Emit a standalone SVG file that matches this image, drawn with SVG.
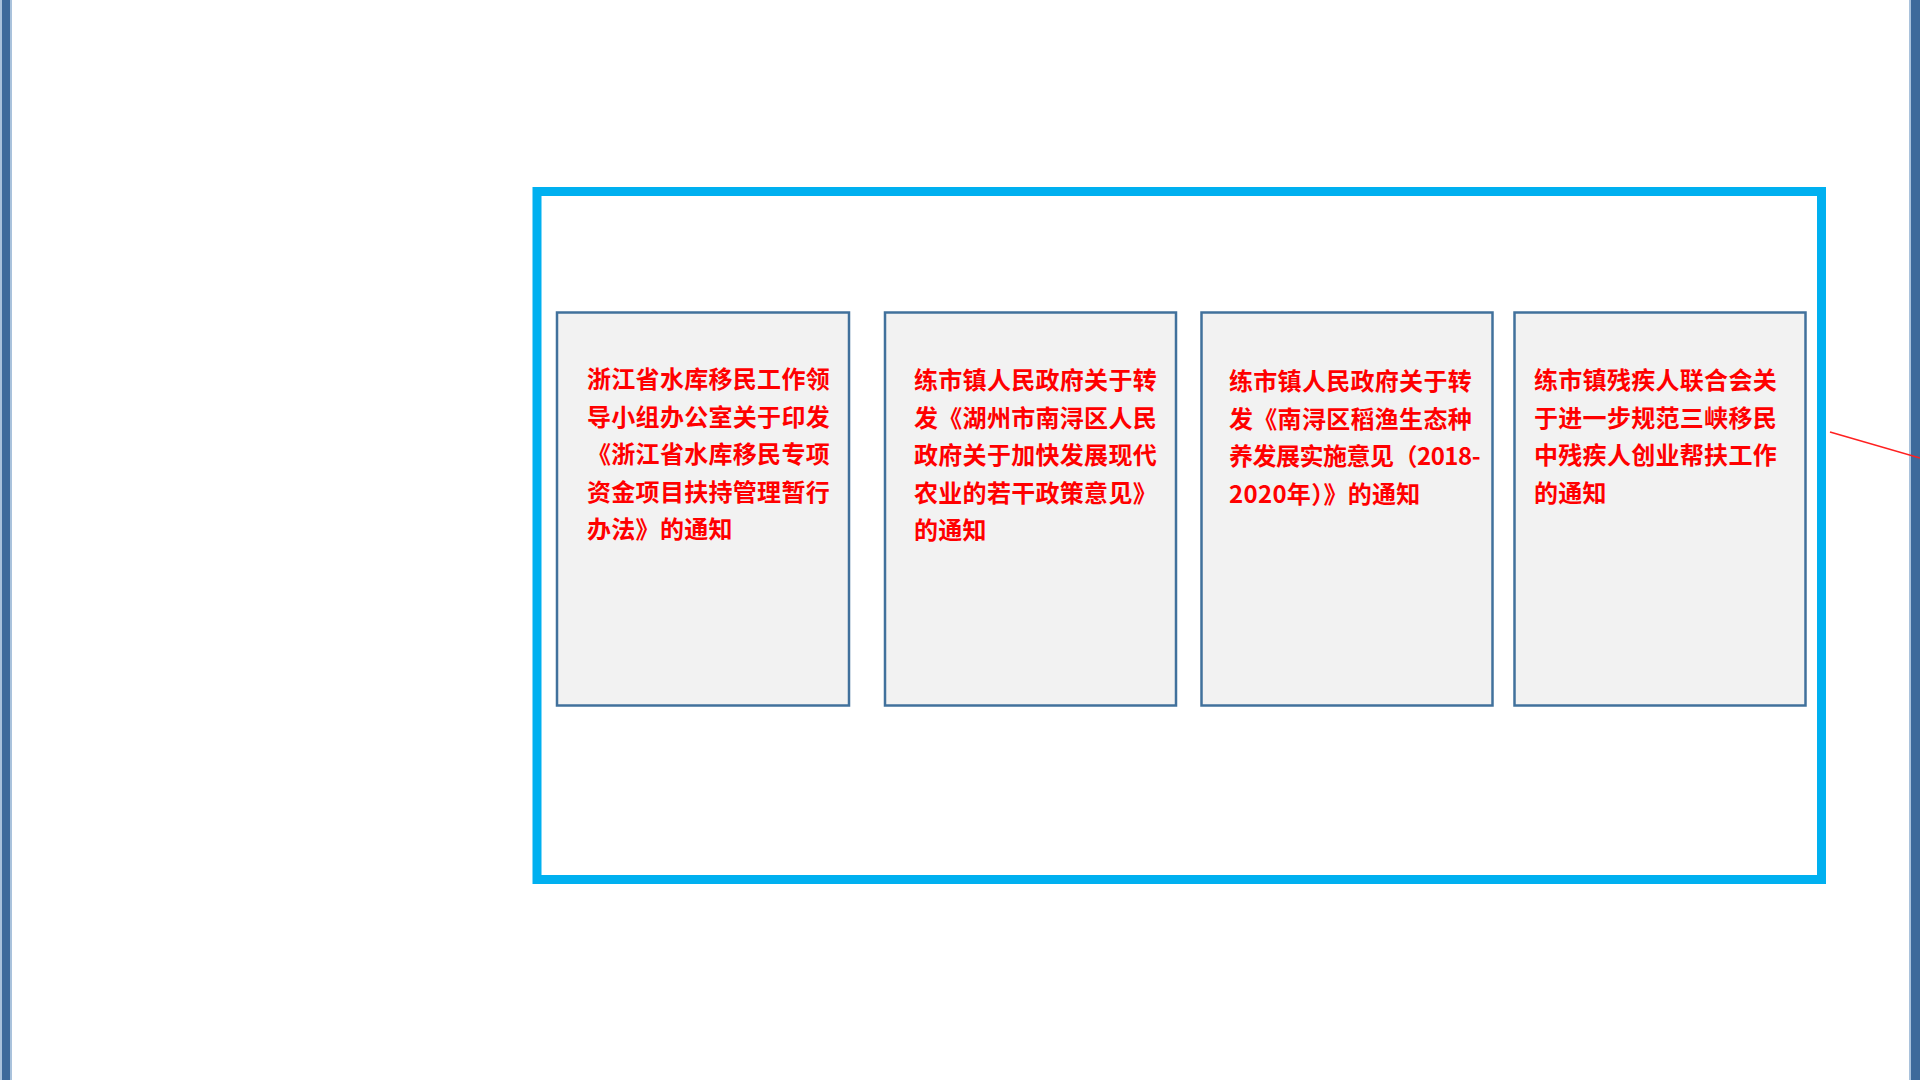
<svg xmlns="http://www.w3.org/2000/svg" width="1920" height="1080" viewBox="0 0 1920 1080">
<style>
.bar{fill:#3d6a9b}
.bar-edge{fill:#a9c2dc}
.frame{fill:none;stroke:#00b0f0;stroke-width:9}
.box{fill:#f2f2f2;stroke:#41719c;stroke-width:2.5}
.t{font-family:"Noto Sans CJK SC","Noto Sans CJK TC",sans-serif;font-size:24px;font-weight:bold;fill:#ff0000;letter-spacing:0.3px}
.tight{letter-spacing:-0.5px}
.conn{stroke:#ff2020;stroke-width:1.6;fill:none}
</style>
<rect x="0" y="0" width="1920" height="1080" fill="#ffffff"/>
<g id="side-bars">
<rect class="bar-edge" x="0" y="0" width="12" height="1080"/>
<rect class="bar" x="2" y="0" width="8" height="1080"/>
<rect class="bar-edge" x="1909" y="0" width="11" height="1080"/>
<rect class="bar" x="1911" y="0" width="9" height="1080"/>
</g>
<g id="container">
<rect class="frame" x="537" y="191.5" width="1284.5" height="688"/>
</g>
<g id="node1">
<rect class="box" x="557" y="312.5" width="292" height="393"/>
<text class="t"><tspan x="587" y="388">浙江省水库移民工作领</tspan><tspan x="587" y="425.5">导小组办公室关于印发</tspan><tspan x="587" y="463">《浙江省水库移民专项</tspan><tspan x="587" y="500.5">资金项目扶持管理暂行</tspan><tspan x="587" y="538">办法》的通知</tspan></text>
</g>
<g id="node2">
<rect class="box" x="885" y="312.5" width="291" height="393"/>
<text class="t"><tspan x="914" y="389">练市镇人民政府关于转</tspan><tspan x="914" y="426.5">发《湖州市南浔区人民</tspan><tspan x="914" y="464">政府关于加快发展现代</tspan><tspan x="914" y="501.5">农业的若干政策意见》</tspan><tspan x="914" y="539">的通知</tspan></text>
</g>
<g id="node3">
<rect class="box" x="1201.5" y="312.5" width="291" height="393"/>
<text class="t"><tspan x="1229" y="390">练市镇人民政府关于转</tspan><tspan x="1229" y="427.5">发《南浔区稻渔生态种</tspan><tspan class="tight" x="1229" y="465">养发展实施意见（2018-</tspan><tspan x="1229" y="502.5">2020年）》的通知</tspan></text>
</g>
<g id="node4">
<rect class="box" x="1514.5" y="312.5" width="291" height="393"/>
<text class="t"><tspan x="1534" y="389">练市镇残疾人联合会关</tspan><tspan x="1534" y="426.5">于进一步规范三峡移民</tspan><tspan x="1534" y="464">中残疾人创业帮扶工作</tspan><tspan x="1534" y="501.5">的通知</tspan></text>
</g>
<g id="connectors">
<line class="conn" x1="1830" y1="432" x2="1920" y2="458"/>
</g>
</svg>
